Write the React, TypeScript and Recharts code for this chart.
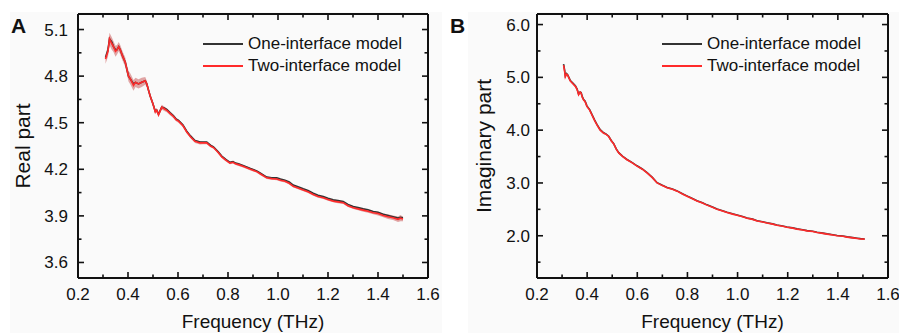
import { ComposedChart, Line, Area, XAxis, YAxis, Legend } from "recharts"

const freqA = [
    0.31, 0.32, 0.326, 0.335, 0.342, 0.35, 0.356, 0.363, 0.369, 0.378,
    0.389, 0.396, 0.402, 0.41, 0.422, 0.43, 0.442, 0.455, 0.469, 0.475,
    0.482, 0.489, 0.5, 0.509, 0.515, 0.522, 0.535, 0.545, 0.555, 0.568,
    0.582, 0.592, 0.602, 0.62, 0.635, 0.65, 0.668, 0.688, 0.7, 0.715,
    0.73, 0.742, 0.76, 0.775, 0.79, 0.808, 0.82, 0.83, 0.842, 0.86,
    0.875, 0.89, 0.915, 0.93, 0.955, 0.975, 0.995, 1.01, 1.028, 1.045,
    1.061, 1.08, 1.101, 1.12, 1.141, 1.16, 1.181, 1.2, 1.221, 1.24,
    1.261, 1.28, 1.301, 1.32, 1.341, 1.36, 1.381, 1.4, 1.421, 1.44,
    1.46, 1.48, 1.49, 1.5,
]

const oneA = [
    4.92, 4.97, 5.04, 5.02, 4.99, 4.97, 4.97, 4.99, 4.97, 4.93,
    4.89, 4.84, 4.8, 4.78, 4.75, 4.76, 4.75, 4.76, 4.77, 4.75,
    4.71, 4.67, 4.62, 4.575, 4.58, 4.555, 4.6, 4.595, 4.585, 4.565,
    4.545, 4.525, 4.515, 4.485, 4.445, 4.415, 4.385, 4.375, 4.375, 4.375,
    4.355, 4.345, 4.315, 4.285, 4.265, 4.245, 4.25, 4.24, 4.235, 4.225,
    4.215, 4.205, 4.19, 4.175, 4.15, 4.145, 4.145, 4.137, 4.13, 4.118,
    4.098, 4.088, 4.074, 4.063, 4.046, 4.033, 4.024, 4.013, 4.003, 3.998,
    3.992, 3.974, 3.96, 3.953, 3.945, 3.939, 3.928, 3.923, 3.911, 3.903,
    3.895, 3.886, 3.89, 3.887,
]

const twoA = [
    4.91, 4.96, 5.04, 5.01, 4.99, 4.96, 4.97, 4.99, 4.97, 4.93,
    4.89, 4.84, 4.8, 4.78, 4.74, 4.76, 4.75, 4.76, 4.77, 4.75,
    4.71, 4.67, 4.62, 4.57, 4.58, 4.55, 4.6, 4.59, 4.58, 4.56,
    4.54, 4.52, 4.51, 4.48, 4.44, 4.41, 4.38, 4.37, 4.37, 4.37,
    4.35, 4.34, 4.31, 4.28, 4.26, 4.24, 4.245, 4.235, 4.23, 4.22,
    4.21, 4.2, 4.185, 4.17, 4.145, 4.14, 4.138, 4.13, 4.123, 4.11,
    4.09, 4.08, 4.066, 4.055, 4.038, 4.025, 4.017, 4.005, 3.995, 3.99,
    3.985, 3.965, 3.952, 3.945, 3.937, 3.93, 3.92, 3.915, 3.903, 3.895,
    3.888, 3.878, 3.885, 3.88,
]

// half width of the shaded band around the two-interface curve
const spreadA = [
    0.03, 0.035, 0.04, 0.04, 0.035, 0.035, 0.03, 0.03, 0.03, 0.03,
    0.03, 0.03, 0.035, 0.035, 0.035, 0.03, 0.03, 0.03, 0.025, 0.02,
    0.02, 0.015, 0.015, 0.015, 0.015, 0.015, 0.015, 0.015, 0.012, 0.012,
    0.012, 0.01, 0.01, 0.01, 0.01, 0.01, 0.01, 0.01, 0.008, 0.008,
    0.008, 0.008, 0.008, 0.008, 0.008, 0.008, 0.008, 0.008, 0.008, 0.008,
    0.008, 0.008, 0.008, 0.008, 0.008, 0.008, 0.008, 0.008, 0.008, 0.008,
    0.008, 0.008, 0.008, 0.008, 0.008, 0.008, 0.008, 0.008, 0.008, 0.008,
    0.008, 0.008, 0.008, 0.008, 0.01, 0.01, 0.01, 0.012, 0.012, 0.015,
    0.015, 0.018, 0.02, 0.015,
]

const freqB = [
    0.306, 0.31, 0.313, 0.318, 0.322, 0.327, 0.333, 0.343, 0.353, 0.36,
    0.366, 0.372, 0.376, 0.381, 0.386, 0.392, 0.399, 0.41, 0.419, 0.43,
    0.439, 0.452, 0.466, 0.476, 0.486, 0.496, 0.506, 0.516, 0.526, 0.542,
    0.559, 0.58, 0.599, 0.62, 0.639, 0.66, 0.679, 0.7, 0.719, 0.74,
    0.759, 0.78, 0.798, 0.82, 0.838, 0.86, 0.878, 0.9, 0.918, 0.94,
    0.958, 0.98, 0.998, 1.02, 1.038, 1.06, 1.078, 1.1, 1.117, 1.14,
    1.157, 1.18, 1.197, 1.22, 1.237, 1.26, 1.277, 1.3, 1.317, 1.34,
    1.357, 1.38, 1.397, 1.42, 1.437, 1.46, 1.477, 1.49, 1.507,
]

const oneB = [
    5.25, 5.14, 5.03, 5.07, 5.05, 5.0, 4.94, 4.89, 4.84, 4.78,
    4.68, 4.72, 4.71, 4.63, 4.58, 4.55, 4.46, 4.39, 4.3, 4.19,
    4.11, 4.01, 3.95, 3.925, 3.885, 3.805, 3.745, 3.645, 3.575, 3.505,
    3.445, 3.385, 3.325, 3.265, 3.195, 3.105, 3.005, 2.955, 2.915, 2.885,
    2.85, 2.795, 2.755, 2.705, 2.665, 2.625, 2.585, 2.545, 2.505, 2.475,
    2.445, 2.415, 2.395, 2.365, 2.335, 2.315, 2.285, 2.265, 2.245, 2.225,
    2.205, 2.185, 2.165, 2.15, 2.13, 2.115, 2.098, 2.085, 2.067, 2.05,
    2.036, 2.02, 2.005, 1.995, 1.979, 1.965, 1.954, 1.945, 1.94,
]

const twoB = [
    5.23, 5.12, 5.01, 5.06, 5.045, 4.99, 4.93, 4.88, 4.83, 4.77,
    4.67, 4.72, 4.7, 4.62, 4.57, 4.54, 4.45, 4.38, 4.29, 4.18,
    4.1, 4.0, 3.94, 3.92, 3.88, 3.8, 3.74, 3.64, 3.57, 3.5,
    3.44, 3.38, 3.32, 3.26, 3.19, 3.1, 3.0, 2.95, 2.91, 2.88,
    2.845, 2.79, 2.75, 2.7, 2.66, 2.62, 2.58, 2.54, 2.5, 2.47,
    2.44, 2.41, 2.39, 2.36, 2.33, 2.31, 2.28, 2.26, 2.24, 2.22,
    2.2, 2.18, 2.16, 2.145, 2.125, 2.11, 2.093, 2.08, 2.062, 2.045,
    2.031, 2.015, 2.0, 1.99, 1.974, 1.96, 1.949, 1.94, 1.937,
]

const xMajor = [0.2, 0.4, 0.6, 0.8, 1.0, 1.2, 1.4, 1.6]
const xMinor = [0.3, 0.5, 0.7, 0.9, 1.1, 1.3, 1.5]
const yMajorA = [3.6, 3.9, 4.2, 4.5, 4.8, 5.1]
const yMinorA = [3.75, 4.05, 4.35, 4.65, 4.95]
const yMajorB = [2, 3, 4, 5, 6]
const yMinorB = [1.5, 2.5, 3.5, 4.5, 5.5]

const FONT = "'Liberation Sans', Arial, sans-serif"
const BLACK = "#333333"
const RED = "#ff2a2a"

const rowsA = freqA.map((f, i) => ({
    f,
    one: oneA[i],
    two: twoA[i],
    band: [twoA[i] - spreadA[i], twoA[i] + spreadA[i]],
}))

const rowsB = freqB.map((f, i) => ({ f, one: oneB[i], two: twoB[i] }))

const merge = (a: number[], b: number[]) => [...a, ...b].sort((p, q) => p - q)

function makeTick(side: string, major: number[], showLabel: boolean, gap = 8, digits = 1) {
    return (props: any) => {
        const { x, y, payload } = props
        const v = payload.value
        const isMajor = major.some((m) => Math.abs(m - v) < 1e-6)
        const len = isMajor ? 6 : 3.5
        let line = null
        let label = null
        if (side === "bottom") {
            line = <line x1={x} y1={y} x2={x} y2={y - len} stroke="#111" strokeWidth={1.6} />
            if (showLabel && isMajor)
                label = <text x={x} y={y + 22} textAnchor="middle" fontSize={17} fontFamily={FONT} fill="#111">{v.toFixed(digits)}</text>
        } else if (side === "top") {
            line = <line x1={x} y1={y} x2={x} y2={y + len} stroke="#111" strokeWidth={1.6} />
        } else if (side === "left") {
            line = <line x1={x} y1={y} x2={x + len} y2={y} stroke="#111" strokeWidth={1.6} />
            if (showLabel && isMajor)
                label = <text x={x - gap} y={y + 6} textAnchor="end" fontSize={17} fontFamily={FONT} fill="#111">{v.toFixed(digits)}</text>
        } else {
            line = <line x1={x} y1={y} x2={x - len} y2={y} stroke="#111" strokeWidth={1.6} />
        }
        return <g>{line}{label}</g>
    }
}

const legendContent = (props: any) => {
    const items = (props.payload || []).filter((p: any) => p.type !== "none")
    return (
        <div style={{ fontFamily: FONT, fontSize: 17, color: "#111" }}>
            {items.map((it: any) => (
                <div key={it.value} style={{ display: "flex", alignItems: "center", height: 22 }}>
                    <svg width={40} height={4}>
                        <line x1={0} y1={2} x2={40} y2={2} stroke={it.color} strokeWidth={2} />
                    </svg>
                    <span style={{ marginLeft: 5, whiteSpace: "nowrap" }}>{it.value}</span>
                </div>
            ))}
        </div>
    )
}

const axisLine = { stroke: "#111", strokeWidth: 2 }

function Panel(props: {
    rows: any[]
    width: number
    margin: any
    yDomain: number[]
    yMajor: number[]
    yMinor: number[]
    yTitle: string
    yTitleOffset: number
    yGap: number
    legendLeft: number
    band: boolean
}) {
    const { rows, width, margin, yDomain, yMajor, yMinor } = props
    return (
        <ComposedChart width={width} height={333} data={rows} margin={margin}>
            <XAxis
                dataKey="f"
                type="number"
                domain={[0.2, 1.6]}
                ticks={merge(xMajor, xMinor)}
                interval={0}
                tickSize={0}
                tickMargin={0}
                tickLine={false}
                tick={makeTick("bottom", xMajor, true)}
                axisLine={axisLine}
                height={55}
                allowDataOverflow
                label={{ value: "Frequency (THz)", position: "insideBottom", offset: 5, style: { fontFamily: FONT, fontSize: 19, fill: "#111" } }}
            />
            <XAxis
                xAxisId="top"
                dataKey="f"
                orientation="top"
                type="number"
                domain={[0.2, 1.6]}
                ticks={merge(xMajor, xMinor)}
                interval={0}
                tickSize={0}
                tickMargin={0}
                tickLine={false}
                tick={makeTick("top", xMajor, false)}
                axisLine={axisLine}
                height={1}
                allowDataOverflow
            />
            <YAxis
                type="number"
                domain={yDomain}
                ticks={merge(yMajor, yMinor)}
                interval={0}
                tickSize={0}
                tickMargin={0}
                tickLine={false}
                tick={makeTick("left", yMajor, true, props.yGap)}
                axisLine={axisLine}
                width={50}
                allowDataOverflow
                label={{ value: props.yTitle, angle: -90, position: "insideLeft", offset: props.yTitleOffset, style: { textAnchor: "middle", fontFamily: FONT, fontSize: 21, fill: "#111" } }}
            />
            <YAxis
                yAxisId="right"
                orientation="right"
                type="number"
                domain={yDomain}
                ticks={merge(yMajor, yMinor)}
                interval={0}
                tickSize={0}
                tickMargin={0}
                tickLine={false}
                tick={makeTick("right", yMajor, false)}
                axisLine={axisLine}
                width={1}
                allowDataOverflow
            />
            {props.band && (
                <Area
                    dataKey="band"
                    stroke="none"
                    fill="#c23b3b"
                    fillOpacity={0.45}
                    legendType="none"
                    isAnimationActive={false}
                />
            )}
            {/* the black curve is plotted against the mirrored top/right axes (same domains) */}
            <Line
                dataKey="one"
                name="One-interface model"
                xAxisId="top"
                yAxisId="right"
                stroke={BLACK}
                strokeWidth={1.6}
                dot={false}
                isAnimationActive={false}
            />
            <Line
                dataKey="two"
                name="Two-interface model"
                stroke={RED}
                strokeWidth={1.6}
                dot={false}
                isAnimationActive={false}
            />
            <Legend
                content={legendContent}
                layout="horizontal"
                verticalAlign="middle"
                align="center"
                wrapperStyle={{ position: "absolute", left: props.legendLeft, top: 33, width: "auto", height: "auto" }}
            />
        </ComposedChart>
    )
}

export default function App() {
    return (
        <div style={{ position: "absolute", left: 0, top: 0, width: 899, height: 333, background: "#ffffff", overflow: "hidden" }}>
            <div style={{ position: "absolute", left: 10, top: 12, width: 432, height: 321, background: "#fafafa" }} />
            <div style={{ position: "absolute", left: 468, top: 12, width: 431, height: 321, background: "#fafafa" }} />

            <div style={{ position: "absolute", left: 0, top: 0 }}>
                <Panel
                    rows={rowsA}
                    width={440}
                    margin={{ top: 13, right: 11, bottom: 0, left: 28 }}
                    yDomain={[3.5, 5.2]}
                    yMajor={yMajorA}
                    yMinor={yMinorA}
                    yTitle="Real part"
                    yTitleOffset={-5}
                    yGap={10}
                    legendLeft={203}
                    band={true}
                />
            </div>
            <div style={{ position: "absolute", left: 450, top: 0 }}>
                <Panel
                    rows={rowsB}
                    width={449}
                    margin={{ top: 13, right: 10, bottom: 0, left: 37 }}
                    yDomain={[1.2, 6.2]}
                    yMajor={yMajorB}
                    yMinor={yMinorB}
                    yTitle="Imaginary part"
                    yTitleOffset={-3}
                    yGap={7}
                    legendLeft={212}
                    band={false}
                />
            </div>

            <svg width={899} height={333} style={{ position: "absolute", left: 0, top: 0, pointerEvents: "none" }}>
                <text x={11} y={33} fontFamily={FONT} fontWeight="bold" fontSize={21} fill="#111">A</text>
                <text x={450} y={33} fontFamily={FONT} fontWeight="bold" fontSize={21} fill="#111">B</text>
            </svg>
        </div>
    )
}
